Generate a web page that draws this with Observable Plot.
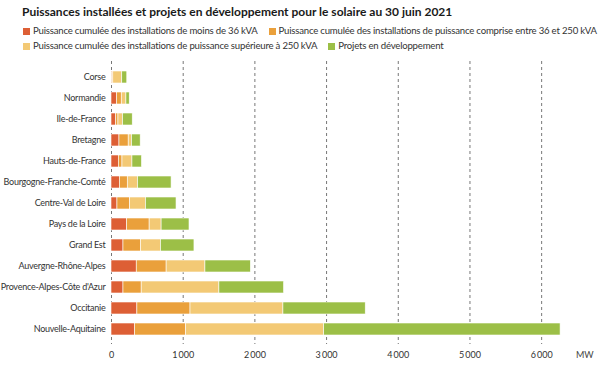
<!DOCTYPE html>
<html>
<head>
<meta charset="utf-8">
<script src="https://cdn.jsdelivr.net/npm/d3@7"></script>
<script src="https://cdn.jsdelivr.net/npm/@observablehq/plot@0.6"></script>
<style>
  html, body { margin: 0; padding: 0; background: #fff; }
  body { width: 600px; height: 368px; position: relative; overflow: hidden; font-family: Lato, "Open Sans", sans-serif; color: #222; }
  #title { position: absolute; left: 22px; top: 4px; font-size: 12px; line-height: 16px; font-weight: bold; color: #1a1a1a; white-space: nowrap; }
  .row { position: absolute; left: 23px; font-size: 9.6px; letter-spacing: -0.2px; line-height: 14px; color: #333; white-space: nowrap; }
  .item { display: inline-flex; align-items: center; margin-right: 11px; white-space: nowrap; }
  .sw { display: inline-block; width: 7px; height: 7px; margin-right: 3px; }
  #chart { position: absolute; left: 0; top: 56px; }
  #chart svg g[aria-label="y-axis tick label"] text { letter-spacing: -0.25px; }
  #unit { position: absolute; left: 576px; top: 349px; font-size: 9px; color: #444; }
</style>
</head>
<body>
<div id="title">Puissances installées et projets en développement pour le solaire au 30 juin 2021</div>
<div class="row" id="row1" style="top:24px"></div>
<div class="row" id="row2" style="top:39px"></div>
<div id="chart"></div>
<div id="unit">MW</div>
<script>
const regions = ["Corse", "Normandie", "Ile-de-France", "Bretagne", "Hauts-de-France", "Bourgogne-Franche-Comté", "Centre-Val de Loire", "Pays de la Loire", "Grand Est", "Auvergne-Rhône-Alpes", "Provence-Alpes-Côte d'Azur", "Occitanie", "Nouvelle-Aquitaine"];
const seriesNames = [
  "Puissance cumulée des installations de moins de 36 kVA",
  "Puissance cumulée des installations de puissance comprise entre 36 et 250 kVA",
  "Puissance cumulée des installations de puissance supérieure à 250 kVA",
  "Projets en développement"
];
const moins36 = [10, 78, 64, 111, 102, 116, 83, 218, 167, 352, 167, 361, 329];
const entre36et250 = [15, 65, 33, 129, 51, 111, 176, 314, 245, 417, 254, 741, 713];
const plus250 = [125, 65, 64, 46, 139, 143, 222, 167, 278, 541, 1084, 1296, 1925];
const projets = [70, 46, 135, 121, 133, 468, 426, 389, 467, 634, 902, 1148, 3297];
const colors = ["#dd5f35", "#eaa03b", "#f3c975", "#9cbf47"];
const xTicks = [0, 1000, 2000, 3000, 4000, 5000, 6000];

const allSeries = [moins36, entre36et250, plus250, projets];
const data = [];
regions.forEach((r, i) => {
  allSeries.forEach((s, k) => data.push({region: r, serie: seriesNames[k], order: k, value: s[i]}));
});

seriesNames.forEach((n, k) => {
  const it = document.createElement("span");
  it.className = "item";
  it.innerHTML = `<span class="sw" style="background:${colors[k]}"></span>${n}`;
  document.getElementById(k < 2 ? "row1" : "row2").appendChild(it);
});

const fmt = d => d3.format(",")(d).replace(/,/g, "\u2009");

const chart = Plot.plot({
  width: 600,
  height: 312,
  marginTop: 5,
  marginBottom: 24,
  marginLeft: 111,
  marginRight: 23,
  style: {fontFamily: "Lato, 'Open Sans', sans-serif", fontSize: "9px", color: "#333", background: "transparent"},
  x: {domain: [0, 6500], ticks: xTicks, tickFormat: fmt, tickSize: 0, tickPadding: 7, label: null},
  y: {domain: regions, padding: 0.45, paddingOuter: 0.2, tickSize: 0, tickPadding: 6, label: null},
  color: {domain: seriesNames, range: colors},
  marks: [
    Plot.gridX(xTicks, {stroke: "#777", strokeOpacity: 1, strokeDasharray: "3,3", strokeWidth: 1}),
    Plot.barX(data, Plot.stackX({x: "value", y: "region", fill: "serie", order: "order", stroke: "#fff", strokeWidth: 0.6})),
    Plot.axisY({tickSize: 0, tickPadding: 6, fontSize: 9}),
    Plot.axisX({ticks: xTicks, tickFormat: fmt, tickSize: 0, tickPadding: 7, fontSize: 9})
  ]
});
document.getElementById("chart").appendChild(chart);
</script>
</body>
</html>
